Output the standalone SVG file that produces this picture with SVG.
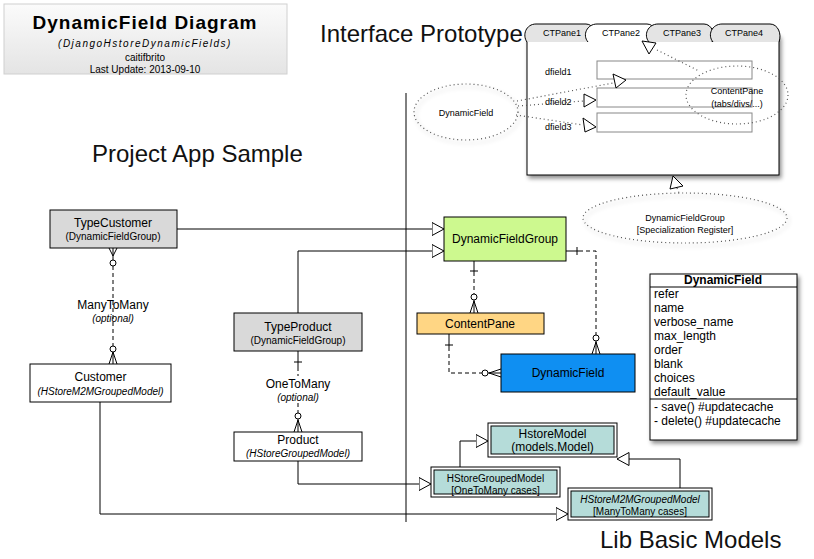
<svg xmlns="http://www.w3.org/2000/svg" width="814" height="559" viewBox="0 0 814 559">
<defs>
<linearGradient id="tg" x1="0" y1="0" x2="0" y2="1"><stop offset="0" stop-color="#fbfbfb"/><stop offset="1" stop-color="#e4e4e4"/></linearGradient>
<filter id="sh" x="-20%" y="-20%" width="150%" height="160%"><feDropShadow dx="2" dy="3" stdDeviation="2" flood-color="#000" flood-opacity="0.45"/></filter>
<marker id="tri" viewBox="0 0 13 14" refX="12.5" refY="7" markerWidth="13" markerHeight="14" markerUnits="userSpaceOnUse" orient="auto"><path d="M0.5,0.5 L12.5,7 L0.5,13.5 Z" fill="#fff" stroke="#000" stroke-width="1"/></marker>
</defs>
<style>
text{font-family:"Liberation Sans",Arial,sans-serif;fill:#000}
.big{font-size:24px;fill:#111}
.n{font-size:12px;text-anchor:middle}
.s{font-size:10px;text-anchor:middle}
.i{font-style:italic}
.t{font-size:9px;text-anchor:middle}
.box{stroke:#000;stroke-width:1}
.ln{fill:none;stroke:#000;stroke-width:1}
.dash{fill:none;stroke:#000;stroke-width:1;stroke-dasharray:4,3}
.dot{fill:none;stroke:#555;stroke-width:1.2;stroke-dasharray:1,3}
.circ{fill:#fff;stroke:#000;stroke-width:1}
.otri{fill:#fff;stroke:#000;stroke-width:1}
.attr{font-size:12px}
</style>

<g id="title">
<rect x="4" y="4" width="283" height="70" fill="url(#tg)" stroke="#d0d0d0"/>
<text x="145" y="29" style="font-size:19px;font-weight:bold;letter-spacing:1px" text-anchor="middle">DynamicField Diagram</text>
<text x="145" y="47" style="font-size:10px;font-style:italic;letter-spacing:1.5px" text-anchor="middle">(DjangoHstoreDynamicFields)</text>
<text x="145" y="61" class="s">caitifbrito</text>
<text x="145" y="73" class="s">Last Update: 2013-09-10</text>
</g>

<text x="320" y="42" class="big">Interface Prototype</text>
<text x="92" y="162" class="big">Project App Sample</text>
<text x="600" y="548" class="big">Lib Basic Models</text>

<g id="divider"><line x1="406" y1="93" x2="406" y2="522" stroke="#000" stroke-width="1"/></g>

<g id="window">
<rect x="527" y="35" width="252" height="140" fill="#fff" stroke="#000" filter="url(#sh)"/>
<path d="M527,42 C522,35 526,24 536,24 L586,24 C594,24 598,35 594,42" fill="#e4e4e4" stroke="#000"/>
<path d="M588,42 C582,35 587,24 597,24 L647,24 C655,24 659,35 656,42" fill="#fff" stroke="#000"/>
<path d="M649,42 C643,35 648,24 658,24 L704,24 C712,24 716,35 712,42" fill="#e4e4e4" stroke="#000"/>
<path d="M713,42 C707,35 712,24 722,24 L770,24 C778,24 782,34 779,42" fill="#e4e4e4" stroke="#000"/>
<text x="562" y="36" class="t">CTPane1</text>
<text x="621" y="36" class="t">CTPane2</text>
<text x="682" y="36" class="t">CTPane3</text>
<text x="744" y="36" class="t">CTPane4</text>
<text x="545" y="75" style="font-size:9px">dfield1</text>
<text x="545" y="105" style="font-size:9px">dfield2</text>
<text x="545" y="130" style="font-size:9px">dfield3</text>
<rect x="597" y="61" width="155" height="18" fill="#fff" stroke="#888"/>
<rect x="597" y="88" width="155" height="19" fill="#fff" stroke="#888"/>
<rect x="597" y="113" width="155" height="19" fill="#fff" stroke="#888"/>
</g>

<g id="contentpane-ellipse">
<ellipse cx="737" cy="95" rx="51" ry="29" fill="#fff" class="dot"/>
<text x="737" y="94" class="t">ContentPane</text>
<text x="737" y="107" class="t">(tabs/divs/...)</text>
</g>

<g id="dynamicfield-ellipse">
<ellipse cx="466" cy="112" rx="52" ry="28" fill="#fff" class="dot" filter="url(#sh)"/>
<text x="466" y="116" class="t">DynamicField</text>
</g>

<g id="dfg-ellipse">
<ellipse cx="685" cy="218" rx="102" ry="25" fill="#fff" class="dot" filter="url(#sh)"/>
<text x="685" y="221" class="t">DynamicFieldGroup</text>
<text x="685" y="233" class="t">[Specialization Register]</text>
</g>

<g id="proto-connectors">
<path class="dot" d="M657,50 L699,71"/>
<path class="dot" d="M517,101 L613,83"/>
<path class="dot" d="M518,106 L584,101"/>
<path class="dot" d="M516,115 L583,125"/>
<path class="dot" d="M677,188 L679,193"/>
<polygon class="otri" points="642,41 656,43 649,54"/>
<polygon class="otri" points="613,74 626,80 616,88"/>
<polygon class="otri" points="584,94 596,100 584,107"/>
<polygon class="otri" points="583,118 596,127 585,132"/>
<polygon class="otri" points="673,176 683,186 670,189"/>
</g>

<g id="TypeCustomer">
<rect x="50" y="210" width="127" height="38" fill="#d9d9d9" class="box"/>
<text x="113" y="227" class="n">TypeCustomer</text>
<text x="113" y="240" class="s">(DynamicFieldGroup)</text>
</g>
<g id="Customer">
<rect x="30" y="364" width="141" height="38" fill="#fff" class="box"/>
<text x="100.5" y="381" class="n">Customer</text>
<text x="100.5" y="395" class="s i">(HStoreM2MGroupedModel)</text>
</g>
<g id="TypeProduct">
<rect x="234" y="313" width="128" height="38" fill="#d9d9d9" class="box"/>
<text x="298" y="331" class="n">TypeProduct</text>
<text x="298" y="344" class="s">(DynamicFieldGroup)</text>
</g>
<g id="Product">
<rect x="234" y="432" width="128" height="29" fill="#fff" class="box"/>
<text x="298" y="444" class="n">Product</text>
<text x="298" y="457" class="s i">(HStoreGroupedModel)</text>
</g>
<g id="DynamicFieldGroup">
<rect x="444" y="217" width="122" height="44" fill="#cdf98f" class="box"/>
<text x="505" y="243" class="n">DynamicFieldGroup</text>
</g>
<g id="ContentPane">
<rect x="417" y="313" width="127" height="21" fill="#ffd684" class="box"/>
<text x="480" y="328" class="n">ContentPane</text>
</g>
<g id="DynamicField">
<rect x="501" y="354" width="134" height="38" fill="#0f8ff2" class="box"/>
<text x="568" y="377" class="n">DynamicField</text>
</g>

<g id="DynamicFieldClass">
<rect x="650" y="274" width="147" height="166" fill="#fff" class="box" filter="url(#sh)"/>
<text x="723" y="284" class="n" style="font-weight:bold">DynamicField</text>
<line x1="650" y1="287" x2="797" y2="287" stroke="#000"/>
<text x="654" y="298" class="attr">refer</text>
<text x="654" y="312" class="attr">name</text>
<text x="654" y="326" class="attr">verbose_name</text>
<text x="654" y="340" class="attr">max_length</text>
<text x="654" y="354" class="attr">order</text>
<text x="654" y="368" class="attr">blank</text>
<text x="654" y="382" class="attr">choices</text>
<text x="654" y="396" class="attr">default_value</text>
<line x1="650" y1="399" x2="797" y2="399" stroke="#000"/>
<text x="654" y="411" class="attr">- save() #updatecache</text>
<text x="654" y="425" class="attr">- delete() #updatecache</text>
</g>

<g id="HstoreModel">
<rect x="488" y="423" width="129" height="34" fill="#fff" class="box"/>
<rect x="491" y="426" width="123" height="28" fill="#b5dcd9" class="box"/>
<text x="552.5" y="438" class="n">HstoreModel</text>
<text x="552.5" y="451" class="n">(models.Model)</text>
</g>
<g id="HStoreGroupedModel">
<rect x="431" y="467" width="129" height="30" fill="#fff" class="box"/>
<rect x="434" y="470" width="123" height="24" fill="#b5dcd9" class="box"/>
<text x="495.5" y="482" class="s">HStoreGroupedModel</text>
<text x="495.5" y="494" class="s">[OneToMany cases]</text>
</g>
<g id="HStoreM2MGroupedModel">
<rect x="568" y="488" width="144" height="32" fill="#fff" class="box"/>
<rect x="571" y="491" width="138" height="26" fill="#b5dcd9" class="box"/>
<text x="640" y="503" class="s i">HStoreM2MGroupedModel</text>
<text x="640" y="515" class="s">[ManyToMany cases]</text>
</g>

<g id="connectors">
<path class="ln" d="M177,229 H444" marker-end="url(#tri)"/>
<path class="ln" d="M298,313 V251 H444" marker-end="url(#tri)"/>
<path class="ln" d="M298,461 V484 H431" marker-end="url(#tri)"/>
<path class="ln" d="M100,402 V514 H568" marker-end="url(#tri)"/>
<path class="ln" d="M460,467 V441 H488" marker-end="url(#tri)"/>
<path class="ln" d="M680,488 V459 H617" marker-end="url(#tri)"/>

<!-- TypeCustomer - Customer -->
<path class="dash" d="M113,266 V346"/>
<path class="ln" d="M113,248 V260 M113,256 L109,248 M113,256 L117,248"/>
<circle class="circ" cx="113" cy="263" r="3"/>
<path class="ln" d="M113,352 V364 M113,352 L109,364 M113,352 L117,364"/>
<circle class="circ" cx="113" cy="349" r="3"/>
<text x="113" y="309" class="n">ManyToMany</text>
<text x="113" y="322" class="s i">(optional)</text>

<!-- TypeProduct - Product -->
<path class="ln" d="M298,351 V367 M294,362 H302"/>
<path class="dash" d="M298,367 V376"/>
<path class="dash" d="M298,403 V413"/>
<circle class="circ" cx="298" cy="416" r="3"/>
<path class="ln" d="M298,419 V432 M298,420 L294,432 M298,420 L302,432"/>
<text x="298" y="388" class="n">OneToMany</text>
<text x="298" y="401" class="s i">(optional)</text>

<!-- DFG - ContentPane -->
<path class="ln" d="M474,261 V272 M470,271 H478"/>
<path class="dash" d="M474,272 V294"/>
<circle class="circ" cx="474" cy="297" r="3"/>
<path class="ln" d="M474,300 V313 M474,301 L470,313 M474,301 L478,313"/>

<!-- DFG - DynamicField -->
<path class="ln" d="M566,251 H579 M577,247 V255"/>
<path class="dash" d="M579,251 H596 V335"/>
<circle class="circ" cx="596" cy="338" r="3"/>
<path class="ln" d="M596,341 V354 M596,342 L592,354 M596,342 L600,354"/>

<!-- ContentPane - DynamicField -->
<path class="ln" d="M449,334 V347 M445,345 H453"/>
<path class="dash" d="M449,347 V373 H482"/>
<circle class="circ" cx="485" cy="373" r="3"/>
<path class="ln" d="M488,373 H501 M489,373 L501,369 M489,373 L501,377"/>
</g>
</svg>
